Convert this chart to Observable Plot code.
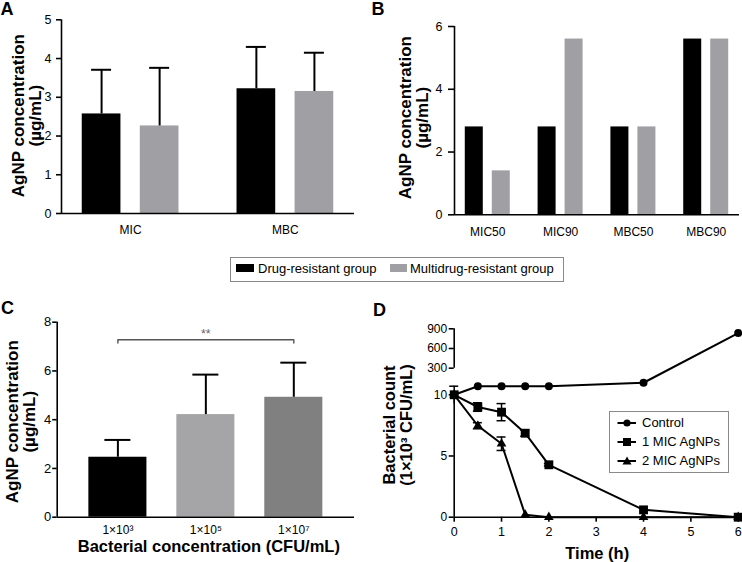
<!DOCTYPE html>
<html><head><meta charset="utf-8">
<script src="https://cdn.jsdelivr.net/npm/d3@7"></script>
<script src="https://cdn.jsdelivr.net/npm/@observablehq/plot@0.6"></script>
<style>
body{margin:0;background:#fff;}
#fig{position:relative;width:742px;height:562px;overflow:hidden;font-family:"Liberation Sans",Arial,Helvetica,sans-serif;color:#000;background:#fff;}
.lab{position:absolute;font-weight:bold;font-size:18px;line-height:18px;}
.box{position:absolute;border:1px solid #8a8a8a;background:#fff;box-sizing:border-box;}
.box .t{position:absolute;font-size:13px;line-height:16px;white-space:nowrap;}
.box .sw{position:absolute;}
</style></head><body><div id="fig"></div>
<script>
// ---------- data ----------
const groupNames = ["Drug-resistant group", "Multidrug-resistant group"];
// Panel A
const aCategories = ["MIC", "MBC"];
const aDrug = [2.57, 3.22];
const aDrugSD = [1.14, 1.08];
const aMulti = [2.26, 3.15];
const aMultiSD = [1.50, 1.00];
const aTicks = [0, 1, 2, 3, 4, 5];
// Panel B
const bCategories = ["MIC50", "MIC90", "MBC50", "MBC90"];
const bDrug = [2.8, 2.8, 2.8, 5.6];
const bMulti = [1.4, 5.6, 2.8, 5.6];
const bTicks = [0, 2, 4, 6];
// Panel C
const cCategories = ["1×10³", "1×10⁵", "1×10⁷"];
const cValues = [2.46, 4.21, 4.92];
const cSD = [0.71, 1.64, 1.42];
const cTicks = [0, 2, 4, 6, 8];
const cSignif = "**";
// Panel D
const dTimes = [0, 0.5, 1, 1.5, 2, 4, 6];
const dSeries = ["Control", "1 MIC AgNPs", "2 MIC AgNPs"];
const dControl = [10, 10.7, 10.7, 10.7, 10.7, 66, 835];
const dControlSD = [0.75, 0, 0, 0, 0, 0, 0];
const dMic1 = [10, 9.0, 8.58, 6.86, 4.28, 0.6, 0];
const dMic1SD = [0, 0.35, 0.7, 0.25, 0.1, 0, 0];
const dMic2 = [10, 7.47, 6.0, 0.2, 0, 0, 0];
const dMic2SD = [0, 0.25, 0.55, 0, 0, 0, 0];
const dYTicks = [0, 5, 10, 300, 600, 900];
const dXTicks = [0, 1, 2, 3, 4, 5, 6];

// ---------- styling ----------
const FONT = '"Liberation Sans", Arial, Helvetica, sans-serif';
const BLACK = "#000000", GRAY = "#a0a0a4", GRAY2 = "#a5a5a8", GRAY3 = "#808080";
const AXW = 1.6;
const fmt = d => String(d);
const fig = document.getElementById("fig");
const style = {fontFamily: FONT, background: "transparent", color: "#000", overflow: "visible"};
function place(node, left, top) {
  node.style.position = "absolute"; node.style.left = left + "px"; node.style.top = top + "px";
  fig.appendChild(node);
}
function bandwidth(domain, r0, r1, pi, po) {
  return d3.scaleBand().domain(domain).range([r0, r1]).paddingInner(pi).paddingOuter(po).bandwidth();
}
// left axis line for a band-x panel: a frame-spanning rule shifted to the frame's left edge
function leftLine(W, ml, mr) {
  return Plot.ruleX([0], {x: null, dx: -(W - ml - mr) / 2, stroke: BLACK, strokeWidth: AXW});
}
function yLabel(text, dx, dy, size) {
  return Plot.text([text], {text: d => d, frameAnchor: "left", textAnchor: "middle", lineAnchor: "middle",
    dx, dy, rotate: -90, fontSize: size, fontWeight: "bold", lineHeight: 1});
}
function xLabel(text, dx, dy) {
  return Plot.text([text], {text: d => d, frameAnchor: "bottom", textAnchor: "middle", lineAnchor: "middle",
    dx, dy, fontSize: 16.5, fontWeight: "bold"});
}
const yLabelAgNP = "AgNP concentration\n(µg/mL)";

// ---------- Panel A ----------
{
  const W = 371, H = 250, ml = 61, mr = 17, mt = 19.3, mb = 37, pi = 0.375, po = 0.134;
  const bw = bandwidth(aCategories, ml, W - mr, pi, po);
  const barW = bw * 0.4, off = bw * 0.3, cap = (bw - 20) / 2;
  const rows = aCategories.map((c, i) => ({cat: c, d: aDrug[i], dsd: aDrugSD[i], m: aMulti[i], msd: aMultiSD[i]}));
  const p = Plot.plot({
    width: W, height: H, marginLeft: ml, marginRight: mr, marginTop: mt, marginBottom: mb, style,
    x: {type: "band", domain: aCategories, paddingInner: pi, paddingOuter: po, round: false},
    y: {domain: [0, 5]},
    marks: [
      Plot.barY(rows, {x: "cat", y: "d", fill: BLACK, insetRight: bw - barW}),
      Plot.barY(rows, {x: "cat", y: "m", fill: GRAY, insetLeft: bw - barW}),
      Plot.ruleX(rows, {x: "cat", y1: "d", y2: d => d.d + d.dsd, dx: -off, stroke: BLACK, strokeWidth: 2}),
      Plot.tickY(rows, {x: "cat", y: d => d.d + d.dsd, dx: -off, insetLeft: cap, insetRight: cap, stroke: BLACK, strokeWidth: 2}),
      Plot.ruleX(rows, {x: "cat", y1: "m", y2: d => d.m + d.msd, dx: off, stroke: BLACK, strokeWidth: 2}),
      Plot.tickY(rows, {x: "cat", y: d => d.m + d.msd, dx: off, insetLeft: cap, insetRight: cap, stroke: BLACK, strokeWidth: 2}),
      leftLine(W, ml, mr),
      Plot.ruleY([0], {stroke: BLACK, strokeWidth: AXW}),
      Plot.axisY({ticks: aTicks, tickFormat: fmt, tickSize: 5, tickPadding: 5, strokeWidth: AXW, fontSize: 12.5, label: null}),
      Plot.axisX({tickSize: 0, tickPadding: 12, fontSize: 12, label: null}),
      yLabel(yLabelAgNP, -34.5, -1, 17)
    ]
  });
  place(p, 0, 0);
}

// ---------- Panel B ----------
{
  const W = 371, H = 250, ml = 83, mr = 3, mt = 26, mb = 35.7, pi = 0.382, po = 0.148;
  const bw = bandwidth(bCategories, ml, W - mr, pi, po);
  const barW = bw * 0.4;
  const rows = bCategories.map((c, i) => ({cat: c, d: bDrug[i], m: bMulti[i]}));
  const p = Plot.plot({
    width: W, height: H, marginLeft: ml, marginRight: mr, marginTop: mt, marginBottom: mb, style,
    x: {type: "band", domain: bCategories, paddingInner: pi, paddingOuter: po, round: false},
    y: {domain: [0, 6]},
    marks: [
      Plot.barY(rows, {x: "cat", y: "d", fill: BLACK, insetRight: bw - barW}),
      Plot.barY(rows, {x: "cat", y: "m", fill: GRAY, insetLeft: bw - barW}),
      leftLine(W, ml, mr),
      Plot.ruleY([0], {stroke: BLACK, strokeWidth: AXW}),
      Plot.axisY({ticks: bTicks, tickFormat: fmt, tickSize: 6, tickPadding: 6, strokeWidth: AXW, fontSize: 12.5, label: null}),
      Plot.axisX({tickSize: 0, tickPadding: 12.4, fontSize: 12, label: null}),
      yLabel(yLabelAgNP, -40.4, -3, 17)
    ]
  });
  place(p, 371, 0);
}

// ---------- Panel C ----------
{
  const W = 371, H = 272, ml = 56.7, mr = 17, mt = 31.7, mb = 45.3, pi = 0.34, po = 0.36;
  const bw = bandwidth(cCategories, ml, W - mr, pi, po);
  const cap = (bw - 26) / 2;
  const rows = cCategories.map((c, i) => ({cat: c, v: cValues[i], sd: cSD[i]}));
  const bracketY = 7.28, bracketTick = 0.135;
  const bracket = [
    {x: cCategories[0], y: bracketY - bracketTick},
    {x: cCategories[0], y: bracketY},
    {x: cCategories[2], y: bracketY},
    {x: cCategories[2], y: bracketY - bracketTick}
  ];
  const p = Plot.plot({
    width: W, height: H, marginLeft: ml, marginRight: mr, marginTop: mt, marginBottom: mb, style,
    x: {type: "band", domain: cCategories, paddingInner: pi, paddingOuter: po, round: false},
    y: {domain: [0, 8]},
    color: {domain: cCategories, range: [BLACK, GRAY2, GRAY3]},
    marks: [
      Plot.barY(rows, {x: "cat", y: "v", fill: "cat"}),
      Plot.ruleX(rows, {x: "cat", y1: "v", y2: d => d.v + d.sd, stroke: BLACK, strokeWidth: 2}),
      Plot.tickY(rows, {x: "cat", y: d => d.v + d.sd, insetLeft: cap, insetRight: cap, stroke: BLACK, strokeWidth: 2}),
      Plot.line(bracket, {x: "x", y: "y", stroke: "#555", strokeWidth: 1.4}),
      Plot.text([{x: cCategories[1], y: bracketY}], {x: "x", y: "y", text: () => cSignif, dy: -6, fill: "#666", fontSize: 12.5}),
      leftLine(W, ml, mr),
      Plot.ruleY([0], {stroke: BLACK, strokeWidth: AXW}),
      Plot.axisY({ticks: cTicks, tickFormat: fmt, tickSize: 4.5, tickPadding: 1.5, strokeWidth: AXW, fontSize: 13, label: null}),
      Plot.axisX({tickSize: 0, tickPadding: 8.5, fontSize: 12, label: null}),
      yLabel(yLabelAgNP, -35.7, 2, 17),
      xLabel("Bacterial concentration (CFU/mL)", 3, 30)
    ]
  });
  place(p, 0, 290);
}

// ---------- Panel D ----------
{
  const W = 371, H = 272, ml = 82.7, mr = 4.3, mt = 38.3, mb = 45.3;
  const all = [dControl, dMic1, dMic2], allSD = [dControlSD, dMic1SD, dMic2SD];
  const rows = [];
  dSeries.forEach((s, k) => dTimes.forEach((t, i) => rows.push({series: s, t, v: all[k][i], sd: allSD[k][i]})));
  const err = rows.filter(d => d.sd > 0);
  const capHalf = 0.095;
  const p = Plot.plot({
    width: W, height: H, marginLeft: ml, marginRight: mr, marginTop: mt, marginBottom: mb, style,
    x: {domain: [0, 6]},
    y: {type: "linear", domain: [0, 10.7, 300, 900], range: [226.7, 95.7, 77.7, 38.3]},
    marks: [
      Plot.ruleX([0], {y1: 0, y2: 10, stroke: BLACK, strokeWidth: AXW}),
      Plot.ruleX([0], {y1: 300, y2: 900, stroke: BLACK, strokeWidth: AXW}),
      Plot.ruleY([0], {stroke: BLACK, strokeWidth: AXW}),
      Plot.axisX({ticks: dXTicks, tickFormat: fmt, tickSize: 5, tickPadding: 5, strokeWidth: AXW, fontSize: 12.5, label: null}),
      Plot.axisY({ticks: dYTicks, tickFormat: fmt, tickSize: 5, tickPadding: 2, strokeWidth: AXW, fontSize: 12, label: null}),
      Plot.ruleX(err, {x: "t", y1: d => d.v - d.sd, y2: d => d.v + d.sd, stroke: BLACK, strokeWidth: 1.5}),
      Plot.ruleY(err, {y: d => d.v + d.sd, x1: d => d.t - capHalf, x2: d => d.t + capHalf, stroke: BLACK, strokeWidth: 1.5}),
      Plot.ruleY(err.filter(d => d.t > 0), {y: d => d.v - d.sd, x1: d => d.t - capHalf, x2: d => d.t + capHalf, stroke: BLACK, strokeWidth: 1.5}),
      Plot.line(rows, {x: "t", y: "v", z: "series", stroke: BLACK, strokeWidth: 2}),
      Plot.dot(rows.filter(d => d.series === dSeries[0]), {x: "t", y: "v", symbol: "circle", r: 4, fill: BLACK}),
      Plot.dot(rows.filter(d => d.series === dSeries[2]), {x: "t", y: "v", symbol: "triangle", r: 3.6, fill: BLACK}),
      Plot.dot(rows.filter(d => d.series === dSeries[1]), {x: "t", y: "v", symbol: "square", r: 5, fill: BLACK}),
      yLabel("Bacterial count\n(1×10³ CFU/mL)", -56.2, 2, 16.5),
      xLabel("Time (h)", 1, 36.3)
    ]
  });
  place(p, 371, 290);
}

// ---------- shared legend ----------
{
  const box = document.createElement("div");
  box.className = "box";
  box.style.width = "334px"; box.style.height = "25px";
  const sw1 = document.createElement("div"); sw1.className = "sw";
  Object.assign(sw1.style, {left: "5px", top: "6px", width: "18px", height: "8px", background: BLACK});
  const t1 = document.createElement("div"); t1.className = "t"; t1.textContent = groupNames[0];
  Object.assign(t1.style, {left: "27px", top: "3px"});
  const sw2 = document.createElement("div"); sw2.className = "sw";
  Object.assign(sw2.style, {left: "159px", top: "6px", width: "17px", height: "8px", background: GRAY});
  const t2 = document.createElement("div"); t2.className = "t"; t2.textContent = groupNames[1];
  Object.assign(t2.style, {left: "179px", top: "3px"});
  box.append(sw1, t1, sw2, t2);
  place(box, 230, 257);
}

// ---------- panel D legend ----------
{
  const box = document.createElement("div");
  box.className = "box";
  box.style.width = "120px"; box.style.height = "62px";
  const shapes = [
    '<circle cx="10" cy="6" r="3.6" fill="#000"/>',
    '<rect x="6" y="2" width="8" height="8" fill="#000"/>',
    '<path d="M10,1.5 L14.5,9.5 L5.5,9.5 Z" fill="#000"/>'
  ];
  const rowsY = [12.3, 31.6, 50.6];
  dSeries.forEach((s, i) => {
    const sw = document.createElement("div"); sw.className = "sw";
    sw.innerHTML = `<svg width="20" height="12" viewBox="0 0 20 12"><line x1="0.5" y1="6" x2="19" y2="6" stroke="#000" stroke-width="2"/>${shapes[i]}</svg>`;
    Object.assign(sw.style, {left: "7px", top: (rowsY[i] - 6 - 1) + "px", width: "20px", height: "12px", lineHeight: "0"});
    const t = document.createElement("div"); t.className = "t"; t.textContent = s;
    Object.assign(t.style, {left: "32px", top: (rowsY[i] - 8 - 1) + "px"});
    box.append(sw, t);
  });
  place(box, 609, 410.7);
}

// ---------- panel letters ----------
[["A", 0.5, 0], ["B", 371.4, 0], ["C", 1, 299.4], ["D", 373, 301]].forEach(([s, x, y]) => {
  const d = document.createElement("div"); d.className = "lab"; d.textContent = s; place(d, x, y);
});
</script></body></html>
